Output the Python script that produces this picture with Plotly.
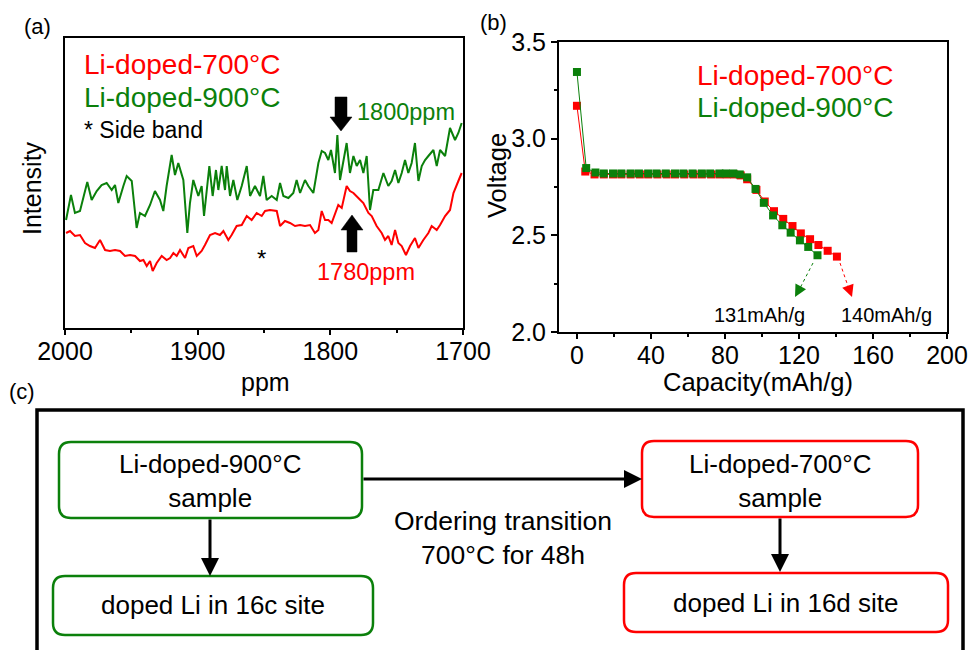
import plotly.graph_objects as go

W, H = 969, 650

# ---------------- data: panel (a) 7Li NMR spectra (arbitrary intensity units)
ppm_900 = [1999.2, 1995.5, 1992.5, 1988.7, 1983.2, 1979.9, 1976.1, 1972.4, 1968.6, 1964.8,
           1962.3, 1959.8, 1956.0, 1953.5, 1949.7, 1946.0, 1943.5, 1939.7, 1935.9, 1932.2,
           1928.4, 1925.9, 1923.4, 1919.6, 1917.1, 1914.6, 1910.8, 1907.8, 1905.8, 1903.3,
           1899.5, 1897.0, 1895.2, 1891.2, 1888.7, 1886.2, 1884.4, 1881.9, 1879.4, 1878.1,
           1875.6, 1873.1, 1870.1, 1866.8, 1863.0, 1860.5, 1856.8, 1853.0, 1850.5, 1848.0,
           1844.2, 1840.4, 1837.9, 1835.4, 1831.6, 1827.9, 1825.4, 1822.8, 1819.1, 1816.6,
           1812.8, 1809.0, 1806.5, 1804.0, 1801.5, 1799.5, 1796.5, 1794.7, 1792.7, 1790.2,
           1787.7, 1785.2, 1782.6, 1780.1, 1777.6, 1775.1, 1772.6, 1770.1, 1767.6, 1763.8,
           1760.0, 1756.3, 1753.8, 1751.2, 1748.7, 1746.2, 1743.7, 1741.2, 1738.7, 1736.2,
           1733.6, 1731.1, 1728.6, 1726.1, 1722.3, 1719.8, 1717.3, 1713.5, 1709.8, 1706.0,
           1703.5, 1701.0]
int_900 = [108, 133, 115, 117, 146, 128, 137, 143, 145, 138,
           143, 125, 142, 152, 147, 100, 115, 112, 123, 137,
           128, 117, 142, 173, 153, 165, 148, 95, 125, 148,
           132, 142, 112, 162, 132, 158, 138, 162, 138, 162,
           132, 148, 128, 142, 162, 132, 142, 132, 152, 128,
           132, 128, 145, 132, 130, 135, 148, 135, 148, 142,
           135, 165, 177, 175, 168, 178, 155, 193, 148, 168,
           185, 155, 172, 162, 168, 155, 172, 118, 138, 138,
           155, 142, 147, 158, 145, 155, 168, 155, 165, 185,
           147, 162, 168, 172, 178, 162, 178, 172, 200, 188,
           195, 205]

ppm_700 = [1999.2, 1996.2, 1992.5, 1988.7, 1984.9, 1981.2, 1977.4, 1973.6, 1969.8, 1966.1,
           1962.3, 1958.5, 1954.8, 1951.0, 1947.2, 1943.5, 1940.9, 1938.4, 1935.9, 1933.9,
           1930.9, 1927.1, 1923.4, 1920.8, 1918.3, 1915.8, 1913.3, 1909.5, 1907.0, 1903.3,
           1900.7, 1897.0, 1894.5, 1890.7, 1886.9, 1883.2, 1880.6, 1876.9, 1874.4, 1870.6,
           1866.8, 1863.0, 1859.3, 1855.5, 1851.7, 1849.2, 1845.5, 1840.4, 1837.9, 1834.2,
           1830.4, 1826.6, 1822.8, 1819.1, 1815.3, 1811.6, 1809.0, 1806.5, 1804.0, 1801.5,
           1799.0, 1796.5, 1794.0, 1791.4, 1787.7, 1785.2, 1782.6, 1778.9, 1775.1, 1771.3,
           1768.8, 1765.1, 1761.3, 1758.8, 1756.3, 1753.8, 1751.2, 1748.7, 1746.2, 1743.0,
           1739.9, 1736.2, 1733.6, 1729.9, 1726.1, 1723.6, 1719.8, 1717.3, 1713.5, 1709.8,
           1707.2, 1703.5, 1701.0]
int_700 = [95, 97, 92, 93, 85, 82, 80, 88, 78, 77,
           78, 77, 72, 73, 72, 67, 68, 62, 67, 57,
           65, 72, 68, 70, 75, 72, 78, 70, 80, 82,
           72, 77, 83, 93, 95, 93, 97, 88, 93, 102,
           103, 112, 108, 115, 112, 117, 118, 117, 102, 107,
           105, 102, 103, 102, 103, 95, 98, 117, 108, 108,
           105, 115, 123, 120, 142, 137, 135, 130, 125, 115,
           112, 102, 95, 88, 92, 83, 98, 85, 82, 73,
           82, 90, 80, 88, 95, 102, 98, 103, 112, 118,
           135, 147, 155]

ppm_ticks = [2000, 1900, 1800, 1700]

# ---------------- data: panel (b) discharge curves
cap_700 = [0, 4.5, 9.5, 14.5, 19.5, 24, 29, 34, 38.5, 43.5, 48.5, 53, 58, 63, 67.5, 72.5,
           77, 81, 85, 88.5, 92, 97, 101.5, 106.5, 111.5, 116.5, 121, 126, 130.5, 135.5, 140.5]
v_700 = [3.17, 2.83, 2.815, 2.815, 2.815, 2.815, 2.815, 2.815, 2.815, 2.815, 2.815, 2.815,
         2.815, 2.815, 2.815, 2.815, 2.815, 2.815, 2.815, 2.81, 2.79, 2.735, 2.675, 2.625,
         2.585, 2.548, 2.51, 2.48, 2.45, 2.42, 2.39]
cap_900 = [0, 5, 10, 14.5, 19.5, 24, 29, 33.5, 38.5, 43, 48, 53, 57.5, 62.5, 67.5, 72, 77,
           80.5, 84.5, 88, 92, 96.5, 101, 106, 111, 115.5, 120.5, 125, 130]
v_900 = [3.345, 2.848, 2.825, 2.82, 2.82, 2.82, 2.82, 2.82, 2.82, 2.82, 2.82, 2.82, 2.82,
         2.82, 2.82, 2.82, 2.82, 2.82, 2.82, 2.815, 2.8, 2.74, 2.668, 2.603, 2.552, 2.514,
         2.474, 2.44, 2.397]
cap_label_700 = "140mAh/g"
cap_label_900 = "131mAh/g"

RED = "#FF0000"
GREEN = "#0B800B"
FONT = "Arial"


def px(x):
    return x / W


def py(y):
    return 1 - y / H


def path_px(points, close=True):
    s = "M " + " L ".join(f"{px(x):.5f},{py(y):.5f}" for x, y in points)
    return s + (" Z" if close else "")


def rrect(x0, y0, x1, y1, r):
    P = lambda x, y: f"{px(x):.5f},{py(y):.5f}"
    return (f"M {P(x0 + r, y0)} L {P(x1 - r, y0)} Q {P(x1, y0)} {P(x1, y0 + r)} "
            f"L {P(x1, y1 - r)} Q {P(x1, y1)} {P(x1 - r, y1)} L {P(x0 + r, y1)} "
            f"Q {P(x0, y1)} {P(x0, y1 - r)} L {P(x0, y0 + r)} Q {P(x0, y0)} {P(x0 + r, y0)} Z")


fig = go.Figure()

fig.add_trace(go.Scatter(x=ppm_700, y=int_700, mode="lines", line=dict(color=RED, width=2),
                         xaxis="x", yaxis="y", showlegend=False))
fig.add_trace(go.Scatter(x=ppm_900, y=int_900, mode="lines", line=dict(color=GREEN, width=2),
                         xaxis="x", yaxis="y", showlegend=False))

fig.add_trace(go.Scatter(x=cap_700, y=v_700, mode="lines+markers",
                         line=dict(color=RED, width=1),
                         marker=dict(symbol="square", size=8, color=RED),
                         xaxis="x2", yaxis="y2", showlegend=False))
fig.add_trace(go.Scatter(x=cap_900, y=v_900, mode="lines+markers",
                         line=dict(color=GREEN, width=1),
                         marker=dict(symbol="square", size=8, color=GREEN),
                         xaxis="x2", yaxis="y2", showlegend=False))

axis_common = dict(showline=True, linewidth=2, linecolor="black", mirror=True,
                   showgrid=False, zeroline=False, automargin=False,
                   tickfont=dict(family=FONT, size=25, color="black"))

fig.update_layout(
    template="none",
    width=W, height=H, autosize=False,
    margin=dict(l=0, r=0, t=0, b=0, pad=0, autoexpand=False),
    paper_bgcolor="white", plot_bgcolor="white",
    xaxis=dict(domain=[px(65), px(463)], range=[2000, 1700], anchor="y",
               tickvals=ppm_ticks, ticks="outside", ticklen=5, tickwidth=2, tickcolor="black",
               ticklabelstandoff=-5,
               minor=dict(dtick=50, tick0=1700, ticks="outside", ticklen=3, tickwidth=1.5,
                          tickcolor="black"),
               **axis_common),
    yaxis=dict(domain=[py(328), py(38)], range=[0, 290], anchor="x",
               showticklabels=False, ticks="", **axis_common),
    xaxis2=dict(domain=[px(559), px(947)], range=[-9.7, 200], anchor="y2",
                dtick=40, tick0=0, ticks="outside", ticklen=5, tickwidth=2, tickcolor="black",
                ticklabelstandoff=-5,
                minor=dict(dtick=20, tick0=0, ticks="outside", ticklen=3, tickwidth=1.5,
                           tickcolor="black"),
                **axis_common),
    yaxis2=dict(domain=[py(332), py(42)], range=[2.0, 3.5], anchor="x2",
                dtick=0.5, tick0=2.0, tickformat=".1f", ticks="outside", ticklen=6,
                tickwidth=2, tickcolor="black",
                minor=dict(dtick=0.25, tick0=2.0, ticks="outside", ticklen=3, tickwidth=1.5,
                           tickcolor="black"),
                **axis_common),
)

ann = []


def text(x, y, s, size=24, color="black", xanchor="center", yanchor="middle", angle=0):
    ann.append(dict(x=px(x), y=py(y), xref="paper", yref="paper", text=s, showarrow=False,
                    xanchor=xanchor, yanchor=yanchor, textangle=angle,
                    font=dict(family=FONT, size=size, color=color)))


def arrow(x0, y0, x1, y1, width=3, head=2, size=1.0, color="black"):
    # tail (x0,y0) -> tip (x1,y1) in pixels
    ann.append(dict(x=px(x1), y=py(y1), xref="paper", yref="paper", text="",
                    showarrow=True, ax=x0 - x1, ay=y0 - y1, axref="pixel", ayref="pixel",
                    arrowhead=head, arrowsize=size, arrowwidth=width, arrowcolor=color))


# panel labels
text(37, 27, "(a)", 22)
text(493, 23, "(b)", 22)
text(22, 391, "(c)", 22)

# panel (a) texts
text(82, 65, "Li-doped-700°C", 28, RED, xanchor="left")
text(82, 97, "Li-doped-900°C", 28, GREEN, xanchor="left")
text(82, 130, "* Side band", 23, "black", xanchor="left")
text(355, 112, "1800ppm", 23.5, GREEN, xanchor="left")
text(315, 272, "1780ppm", 23.5, RED, xanchor="left")
text(261, 258, "*", 24, "black")
text(32, 188, "Intensity", 25, angle=-90)
text(265, 382, "ppm", 25)

# panel (b) texts
text(695, 75, "Li-doped-700°C", 28, RED, xanchor="left")
text(695, 108, "Li-doped-900°C", 28, GREEN, xanchor="left")
text(759, 315, cap_label_900, 20)
text(886, 315, cap_label_700, 20)
text(497, 176, "Voltage", 25.5, angle=-90)
text(758, 382, "Capacity(mAh/g)", 25.5)

# panel (c) texts
text(210, 481, "Li-doped-900°C<br>sample", 26)
text(213, 605, "doped Li in 16c site", 26)
text(780, 481, "Li-doped-700°C<br>sample", 26)
text(786, 603, "doped Li in 16d site", 26)
text(503, 538, "Ordering transition<br>700°C for 48h", 26.5)

# panel (c) arrows
arrow(362, 479, 642, 479, width=3, head=2, size=1.2)
arrow(210, 518, 210, 576, width=3, head=2, size=1.2)
arrow(780, 517, 780, 572, width=3, head=2, size=1.2)

# panel (b) arrow heads (dotted shafts drawn as shapes)
arrow(801, 286, 795, 297, width=1.2, head=2, size=2, color=GREEN)
arrow(848, 286, 852, 297, width=1.2, head=2, size=2, color=RED)

fig.update_layout(annotations=ann)

shapes = []
# block arrows in panel (a)
shapes.append(dict(type="path", xref="paper", yref="paper",
                   path=path_px([(335, 97), (347, 97), (347, 117), (352, 117), (341, 131),
                                 (330, 117), (335, 117)]),
                   fillcolor="black", line=dict(color="black", width=0.5)))
shapes.append(dict(type="path", xref="paper", yref="paper",
                   path=path_px([(347, 252), (357, 252), (357, 230), (363, 230), (352, 215),
                                 (341, 230), (347, 230)]),
                   fillcolor="black", line=dict(color="black", width=0.5)))
# dotted arrow shafts in panel (b)
shapes.append(dict(type="line", xref="paper", yref="paper", x0=px(813), y0=py(263),
                   x1=px(798), y1=py(292), line=dict(color=GREEN, width=1, dash="dot")))
shapes.append(dict(type="line", xref="paper", yref="paper", x0=px(840), y0=py(263),
                   x1=px(850), y1=py(292), line=dict(color=RED, width=1, dash="dot")))
# panel (c) frame
shapes.append(dict(type="rect", xref="paper", yref="paper", x0=px(37), y0=py(410),
                   x1=px(963), y1=py(680), line=dict(color="black", width=3.5)))
# rounded boxes
shapes.append(dict(type="path", xref="paper", yref="paper", path=rrect(59, 442, 362, 518, 12),
                   line=dict(color=GREEN, width=2.5)))
shapes.append(dict(type="path", xref="paper", yref="paper", path=rrect(53, 576, 373, 635, 12),
                   line=dict(color=GREEN, width=2.5)))
shapes.append(dict(type="path", xref="paper", yref="paper", path=rrect(642, 441, 918, 517, 12),
                   line=dict(color=RED, width=2.5)))
shapes.append(dict(type="path", xref="paper", yref="paper", path=rrect(624, 573, 948, 632, 12),
                   line=dict(color=RED, width=2.5)))

fig.update_layout(shapes=shapes)

fig.write_html("out.html")
